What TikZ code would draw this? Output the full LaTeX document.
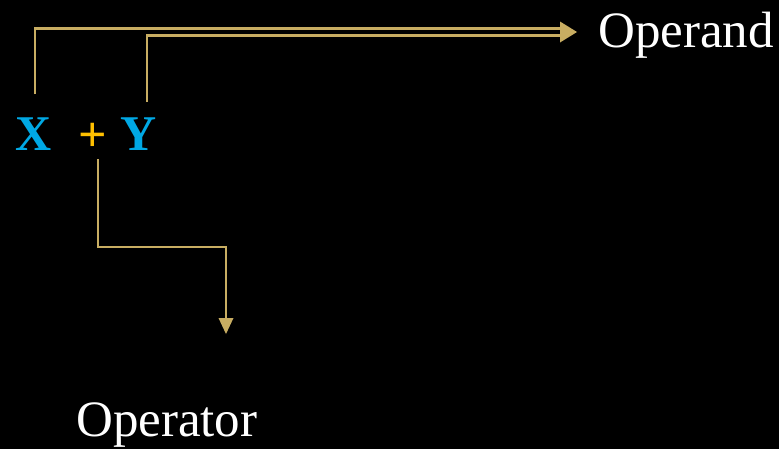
\documentclass[tikz,border=0pt]{standalone}
\usepackage{fontspec}
\setmainfont{Liberation Serif}
\usetikzlibrary{arrows.meta}
\definecolor{gold}{RGB}{200,173,98}
\definecolor{varblue}{RGB}{0,168,228}
\definecolor{opyellow}{RGB}{255,192,0}
\begin{document}
\begin{tikzpicture}[x=1pt,y=-1pt,
  conn/.style={draw=gold,line width=2.4pt},
  var/.style={text=varblue,font=\fontsize{50}{50}\selectfont\bfseries,inner sep=0pt,anchor=base},
  oper/.style={text=opyellow,font=\fontsize{50}{50}\selectfont\bfseries,inner sep=0pt,anchor=base},
  lbl/.style={text=white,font=\fontsize{51}{51}\selectfont,inner sep=0pt,anchor=base west}]
\useasboundingbox (0,0) rectangle (779,448);
\fill[black] (-5,-5) rectangle (785,455);
\node[var] (X) at (33.5,150) {X};
\node[oper] (plus) at (93,151) {+};
\node[var] (Y) at (138.5,150) {Y};
\node[lbl] (operand) at (598,47) {Operand};
\node[lbl] (operator) at (76,436) {Operator};
\coordinate (xs) at (35,94);
\coordinate (ys) at (147,102);
\coordinate (ps) at (98,159);
\coordinate (tip1) at (577,32);
\coordinate (tip2) at (226,334);
% operand arrows
\draw[conn] (xs) -- (35,28.5) -- (563,28.5);
\draw[conn] (ys) -- (147,35.5) -- (563,35.5);
\fill[gold] (tip1) -- ++(-17,-10.5) -- ++(0,21) -- cycle;
% operator arrow
\draw[conn] (ps) -- (98,247) -- (226,247) -- (226,320);
\fill[gold] (tip2) -- ++(-7.5,-16) -- ++(15,0) -- cycle;
\end{tikzpicture}
\end{document}
